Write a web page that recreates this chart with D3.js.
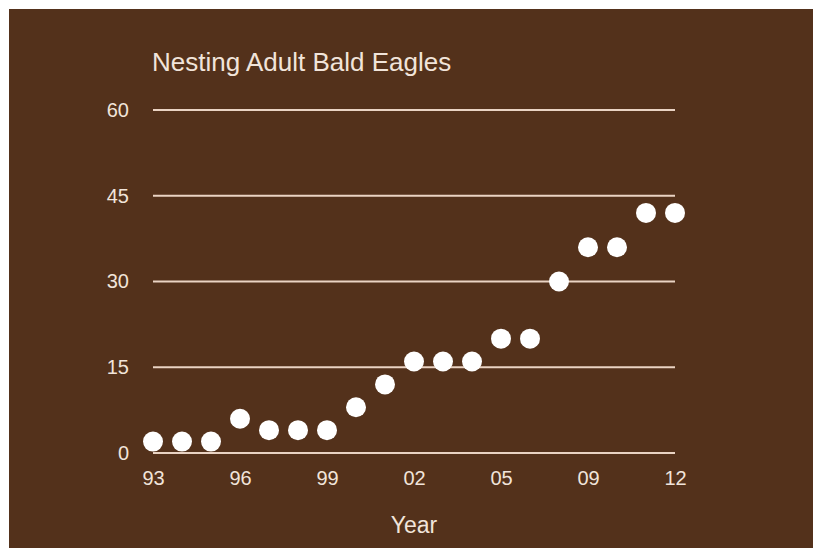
<!DOCTYPE html>
<html>
<head>
<meta charset="utf-8">
<script src="https://cdn.jsdelivr.net/npm/d3@7"></script>
<style>
  html, body { margin: 0; padding: 0; background: #ffffff; }
  svg { display: block; }
  text { font-family: "Liberation Sans", Arial, sans-serif; fill: #f1e4da; }
</style>
</head>
<body>
<script>
// Nesting adult bald eagles counted per year
const years = ["93","94","95","96","97","98","99","00","01","02","03","04","05","06","08","09","10","11","12"];
const eagles = [2, 2, 2, 6, 4, 4, 4, 8, 12, 16, 16, 16, 20, 20, 30, 36, 36, 42, 42];
const yTicks = [0, 15, 30, 45, 60];
const xTickLabels = ["93","96","99","02","05","09","12"];

const W = 813, H = 548;
const svg = d3.select("body").append("svg").attr("width", W).attr("height", H);

svg.append("rect")
  .attr("x", 9).attr("y", 9)
  .attr("width", W - 9).attr("height", H - 9)
  .attr("fill", "#53311b");

const x = d3.scalePoint().domain(years).range([153, 675]).padding(0);
const y = d3.scaleLinear().domain([0, 60]).range([453, 110]);

// horizontal grid lines
svg.append("g").selectAll("line")
  .data(yTicks).join("line")
  .attr("x1", x.range()[0]).attr("x2", x.range()[1])
  .attr("y1", d => y(d)).attr("y2", d => y(d))
  .attr("stroke", "#ead3c3").attr("stroke-width", 2);

// y axis labels
const yAxis = d3.axisLeft(y).tickValues(yTicks).tickSize(0).tickPadding(0);
const gy = svg.append("g").attr("transform", "translate(129,0)").call(yAxis);
gy.select(".domain").remove();
gy.selectAll("text").attr("font-size", 20).attr("fill", "#f1e4da")
  .attr("font-family", "Liberation Sans, Arial, sans-serif");

// x axis labels
const xAxis = d3.axisBottom(x).tickValues(xTickLabels).tickSize(0).tickPadding(0);
const gx = svg.append("g").attr("transform", "translate(0,471)").call(xAxis);
gx.select(".domain").remove();
gx.selectAll("text").attr("font-size", 20).attr("fill", "#f1e4da")
  .attr("font-family", "Liberation Sans, Arial, sans-serif");

// data points
svg.append("g").selectAll("circle")
  .data(years.map((yr, i) => ({ yr, v: eagles[i] }))).join("circle")
  .attr("cx", d => x(d.yr)).attr("cy", d => y(d.v))
  .attr("r", 10)
  .attr("fill", "#ffffff");

// title
svg.append("text")
  .attr("x", 152).attr("y", 71)
  .attr("font-size", 26)
  .text("Nesting Adult Bald Eagles");

// axis title
svg.append("text")
  .attr("x", 414).attr("y", 533)
  .attr("text-anchor", "middle")
  .attr("font-size", 23)
  .text("Year");
</script>
</body>
</html>
